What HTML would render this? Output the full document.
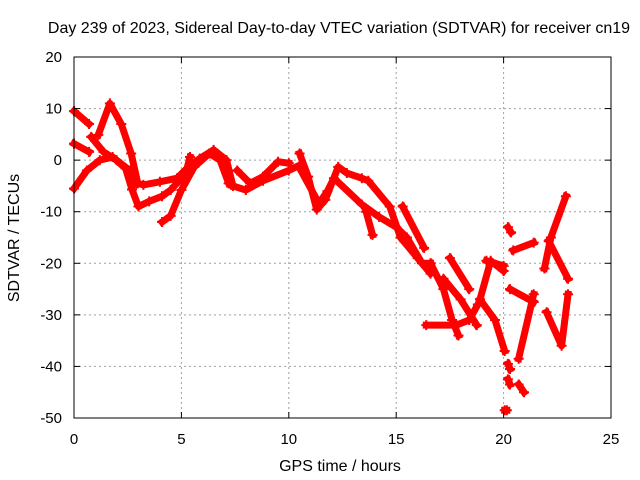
<!DOCTYPE html>
<html><head><meta charset="utf-8"><style>
body{margin:0;background:#fff;}
svg{display:block;font-family:"Liberation Sans",sans-serif;}
</style></head><body>
<svg id="chart" width="640" height="480" viewBox="0 0 640 480">
<rect width="640" height="480" fill="#fff"/>
<text x="339" y="33" font-size="16" text-anchor="middle">Day 239 of 2023, Sidereal Day-to-day VTEC variation (SDTVAR) for receiver cn19</text>
<g id="grid"></g><g id="series"></g><g id="axes"></g>
<text x="340" y="471" font-size="16" text-anchor="middle">GPS time / hours</text>
<text transform="translate(19,238) rotate(-90)" font-size="16" text-anchor="middle">SDTVAR / TECUs</text>
</svg>
<script>
const xTicks=[0,5,10,15,20,25];
const yTicks=[20,10,0,-10,-20,-30,-40,-50];
const tracks=[
 [[0,9.5],[0.7,7]],
 [[0,3.2],[0.7,1.6]],
 [[1.13,4.9],[1.67,11],[2.2,7],[2.66,1.3],[2.97,-4.5],[3.23,-4.8],[4.0,-4.2],[4.8,-3.5],[5.4,-1],[5.85,0.3],[6.5,2],[7.1,0],[7.4,-5]],
 [[0.8,4.5],[1.37,1.6],[1.98,0],[2.6,-2],[2.9,-4.5]],
 [[0,-5.5],[0.6,-2],[1.2,0],[1.8,0.6],[2.4,-1.6],[2.7,-5.7],[3.0,-9],[3.5,-8],[4.1,-7],[4.5,-5.8],[5.2,-2.6],[5.4,0.6]],
 [[4.1,-12],[4.5,-10.8],[5,-5.8],[5.6,-1.3],[6.3,1.3],[6.8,0],[7.2,-4.5]],
 [[7.6,-2],[8.2,-4.5],[8.8,-3.2],[9.5,-0.3],[10,-0.6]],
 [[7.4,-5],[8,-5.8],[8.8,-4],[10,-2],[10.5,-1]],
 [[10.5,1.3],[10.9,-3.2],[11.3,-9.6],[11.7,-7.7],[12.3,-1.3],[12.7,-2.5],[13.4,-3.5],[13.7,-4],[14.7,-9],[15.2,-15],[16,-19],[16.6,-22]],
 [[10.5,-1.5],[11.4,-8.4],[11.8,-6],[12.1,-3.5],[13.4,-8.6],[14.2,-11],[15,-13],[15.5,-15],[16.2,-20],[16.6,-20]],
 [[13.6,-10],[13.9,-14.5]],
 [[15.3,-9],[16.3,-17]],
 [[16.6,-20],[17.2,-25],[17.6,-31],[17.9,-34]],
 [[17.5,-19],[18.4,-25]],
 [[16.4,-32],[17.8,-32],[18.4,-31],[18.8,-28]],
 [[17.2,-23],[18,-27],[18.75,-32]],
 [[18.9,-27],[19.4,-19.5],[20,-21.5]],
 [[19.2,-19.5],[20,-20.5]],
 [[18.9,-27],[19.6,-31],[20.05,-37]],
 [[20.3,-25],[21.4,-27.5]],
 [[21.4,-26],[20.7,-38.5]],
 [[20.45,-17.5],[21.4,-16]],
 [[21.9,-21],[22.2,-15],[22.9,-7]],
 [[22.1,-15.7],[23,-23]],
 [[22,-29.5],[22.7,-36],[23,-26]],
 [[20.2,-13],[20.35,-14]],
 [[20.2,-39.5],[20.3,-40.5]],
 [[20.2,-42.5],[20.3,-43.5]],
 [[20.7,-43.5],[20.95,-45]],
 [[20.05,-48.5],[20.15,-48.5]]
];
const NS='http://www.w3.org/2000/svg';
const X0=74,X1=611,Y0=57,Y1=418;
const xs=h=>X0+(h-0)/(25-0)*(X1-X0);
const ys=v=>Y0+(20-v)/(20-(-50))*(Y1-Y0);
const grid=document.getElementById('grid'),axes=document.getElementById('axes'),ser=document.getElementById('series');
function mk(tag,attrs,parent){const e=document.createElementNS(NS,tag);for(const k in attrs)e.setAttribute(k,attrs[k]);parent.appendChild(e);return e;}
xTicks.forEach(t=>{
 const x=xs(t);
 if(t>0&&t<25){const g=mk('line',{x1:x,x2:x,y1:Y0,y2:Y1,stroke:'#a0a0a0','stroke-dasharray':'2,3'},grid);
 
 }
 mk('line',{x1:x,x2:x,y1:Y1,y2:Y1-6,stroke:'#000'},axes);
 mk('line',{x1:x,x2:x,y1:Y0,y2:Y0+6,stroke:'#000'},axes);
 const l=mk('text',{x:x,y:Y1+26,'font-size':15,'text-anchor':'middle'},axes);l.textContent=t;
 
 
});
yTicks.forEach(t=>{
 const y=ys(t);
 if(t<20&&t>-50){const g=mk('line',{x1:X0,x2:X1,y1:y,y2:y,stroke:'#a0a0a0','stroke-dasharray':'2,3'},grid);
 
 }
 mk('line',{x1:X0,x2:X0+6,y1:y,y2:y,stroke:'#000'},axes);
 mk('line',{x1:X1,x2:X1-6,y1:y,y2:y,stroke:'#000'},axes);
 const l=mk('text',{x:X0-12,y:y+5,'font-size':15,'text-anchor':'end'},axes);l.textContent=t;
 
 
});
const frame=mk('rect',{x:X0,y:Y0,width:X1-X0,height:Y1-Y0,fill:'none',stroke:'#000'},axes);


tracks.forEach(tr=>{
 const p=mk('polyline',{points:tr.map(d=>xs(d[0])+','+ys(d[1])).join(' '),fill:'none',stroke:'#ff0000','stroke-width':7,'stroke-linejoin':'round','stroke-linecap':'square'},ser);
 
 
 tr.forEach(d=>{
  const m=mk('path',{d:`M${xs(d[0])-5},${ys(d[1])}h10M${xs(d[0])},${ys(d[1])-5}v10`,stroke:'#ff0000','stroke-width':2},ser);
  
  
 });
});
</script>
</body></html>
